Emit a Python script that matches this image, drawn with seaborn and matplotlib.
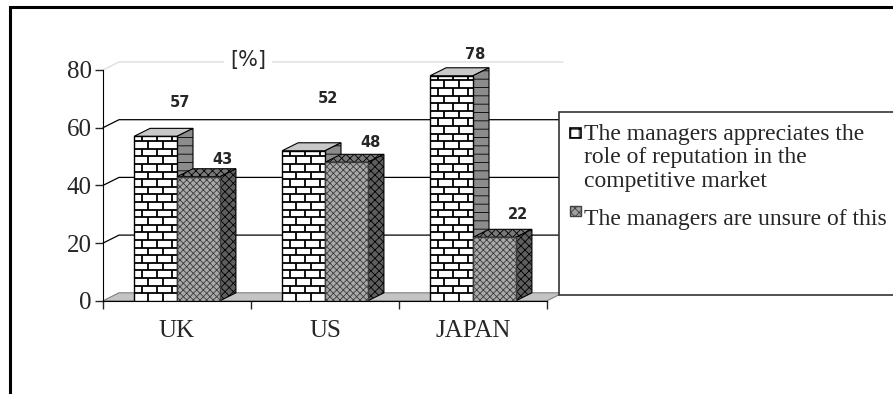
import numpy as np
import pandas as pd
import matplotlib.pyplot as plt
import seaborn as sns
from matplotlib.patches import Polygon, Rectangle
from matplotlib.collections import LineCollection

# data
countries = ["UK", "US", "JAPAN"]
appreciate = [57, 52, 78]
unsure = [43, 48, 22]
series_names = ["The managers appreciates the\nrole of reputation in the\ncompetitive market",
                "The managers are unsure of this"]
y_ticks = [0, 20, 40, 60, 80]

# Excel lifted a couple of the value labels higher than the rest (pixels)
label_lift_px = [[34, 52, 21], [17, 20, 23]]

W, H = 893, 394
AX_L, AX_R, AX_TOP, AX_BOT = 103, 547, 70, 300.8
DEPTH_X, DEPTH_Y = 16, 8  # 3D depth in pixels

df = pd.DataFrame({
    "country": countries * 2,
    "value": appreciate + unsure,
    "series": ["a"] * 3 + ["b"] * 3,
})

sns.set_style("white")
plt.rcParams["font.family"] = ["Liberation Serif", "DejaVu Sans"]
plt.rcParams["hatch.linewidth"] = 0.6

fig = plt.figure(figsize=(W / 100, H / 100), dpi=100)
ax = fig.add_axes([AX_L / W, (H - AX_BOT) / H, (AX_R - AX_L) / W, (AX_BOT - AX_TOP) / H])

sns.barplot(data=df, x="country", y="value", hue="series", palette=["white", "#a9a9a9"],
            width=0.58, gap=0, edgecolor="black", linewidth=1, legend=False, ax=ax)

ax.set_xlim(-0.5, 2.5)
ax.set_ylim(0, 80)

# pixel -> data conversion
px = 3 / (AX_R - AX_L)
py = 80 / (AX_BOT - AX_TOP)
ddx, ddy = DEPTH_X * px, DEPTH_Y * py

# back wall gridlines and left wall diagonals
for yv in y_ticks[1:]:
    col = "#dadada" if yv == 80 else "black"
    ax.plot([-0.5, -0.5 + ddx, 2.5 + ddx], [yv, yv + ddy, yv + ddy],
            color=col, lw=0.9, zorder=0.5, clip_on=False)

# floor
floor = Polygon([(-0.5, 0), (2.5, 0), (2.5 + ddx, ddy), (-0.5 + ddx, ddy)], closed=True,
                facecolor="#c4c4c4", edgecolor="#808080", lw=0.8, zorder=1, clip_on=False)
ax.add_patch(floor)

face_colors = [("#c8c8c8", "#8c8c8c"), ("#787878", "#5e5e5e")]
for s, cont in enumerate(ax.containers):
    top_c, side_c = face_colors[s]
    for p in cont.patches:
        x0, w, h = p.get_x(), p.get_width(), p.get_height()
        p.set_zorder(3 + 3 * s)
        if s == 1:
            p.set_hatch("xxxxx")
            p.set_edgecolor("#3c3c3c")
        top = Polygon([(x0, h), (x0 + w, h), (x0 + w + ddx, h + ddy), (x0 + ddx, h + ddy)],
                      closed=True, facecolor=top_c, edgecolor="black", lw=0.8,
                      hatch=None if s == 0 else "xxxx", zorder=2 + 3 * s, clip_on=False)
        side = Polygon([(x0 + w, 0), (x0 + w + ddx, ddy), (x0 + w + ddx, h + ddy), (x0 + w, h)],
                       closed=True, facecolor=side_c, edgecolor="black", lw=0.8,
                       hatch="--" if s == 0 else "xxxx", zorder=2 + 3 * s, clip_on=False)
        ax.add_patch(top)
        ax.add_patch(side)

        if s == 0:
            # brick pattern on the front face
            rh, bw = 7.6 * py, 15 * px
            segs = []
            nrows = int(np.ceil(h / rh))
            for r in range(nrows):
                y0, y1 = r * rh, min((r + 1) * rh, h)
                if r > 0:
                    segs.append([(x0, y0), (x0 + w, y0)])
                xs = x0 + (bw / 2 if r % 2 else bw * 0.95)
                while xs < x0 + w - 1 * px:
                    segs.append([(xs, y0), (xs, y1)])
                    xs += bw
            lc = LineCollection(segs, colors="black", linewidths=1.3, zorder=3.5)
            ax.add_collection(lc)
            lc.set_clip_path(p)

# value labels
for s, cont in enumerate(ax.containers):
    for i, p in enumerate(cont.patches):
        cx = p.get_x() + p.get_width() / 2
        ax.annotate(f"{int(round(p.get_height()))}", xy=(cx, p.get_height()),
                    xytext=(24 * 0.72, label_lift_px[s][i] * 0.72), textcoords="offset points",
                    ha="center", va="center", fontsize=10.5, fontweight="bold",
                    family="DejaVu Sans", zorder=10, annotation_clip=False)

ax.text(0.48, 83.5, "[%]", family="DejaVu Sans", fontsize=15, ha="center", va="center",
        bbox=dict(facecolor="white", edgecolor="none", pad=4), zorder=2)

# axes, ticks
for side in ["top", "right"]:
    ax.spines[side].set_visible(False)
ax.spines["left"].set_color("black")
ax.spines["bottom"].set_color("black")
ax.spines["left"].set_zorder(9)
ax.set_yticks(y_ticks)
ax.set_yticklabels([str(v) for v in y_ticks])
ax.set_xticks([-0.5, 0.5, 1.5, 2.5])
ax.set_xticklabels([])
ax.set_xticks([0, 1, 2], minor=True)
ax.set_xticklabels(countries, minor=True)
ax.tick_params(axis="y", length=6, width=1, pad=2, labelsize=18, direction="out", left=True)
ax.tick_params(axis="x", which="major", length=6, width=1, direction="out", bottom=True)
ax.tick_params(axis="x", which="minor", length=0, pad=14, labelsize=18)
ax.set_xlabel("")
ax.set_ylabel("")
ax.set_facecolor("none")

# legend box
fig.add_artist(Rectangle((559 / W, (H - 295) / H), 1, (295 - 112) / H, transform=fig.transFigure,
                         facecolor="white", edgecolor="#333333", lw=1.2, zorder=10))
leg_lines = series_names[0].split("\n") + [series_names[1]]
for txt, base in zip(leg_lines, [140, 163, 187, 225]):
    fig.text(584 / W, (H - base) / H, txt, fontsize=17, ha="left", va="baseline", zorder=11)
fig.add_artist(Rectangle((570 / W, (H - 138) / H), 11 / W, 10 / H, transform=fig.transFigure,
                         facecolor="white", edgecolor="black", hatch="++", lw=1.2, zorder=11))
fig.add_artist(Rectangle((570 / W, (H - 216) / H), 11 / W, 10 / H, transform=fig.transFigure,
                         facecolor="#a0a0a0", edgecolor="#404040", hatch="xxxx", lw=1, zorder=11))

# outer frame
fig.add_artist(Rectangle((9.5 / W, -0.2), 1.2, 1.2 - 6.5 / H, transform=fig.transFigure,
                         facecolor="none", edgecolor="black", lw=2.2, zorder=12))

fig.savefig("out.png", dpi=100)
